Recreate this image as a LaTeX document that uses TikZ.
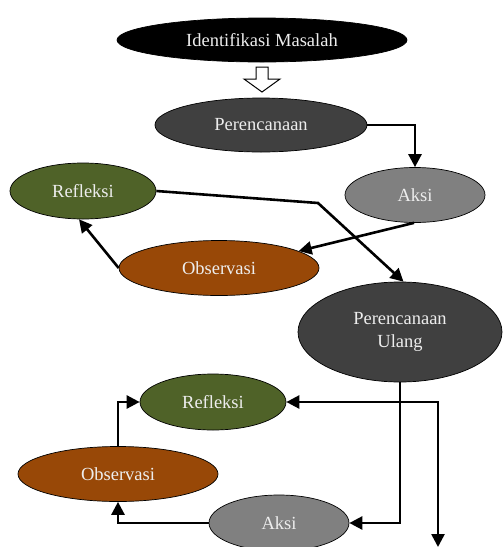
\documentclass[tikz,border=0pt]{standalone}
\usepackage{fontspec}
\setmainfont{Liberation Serif}
\usetikzlibrary{shapes.geometric,arrows.meta}

\definecolor{tahap1}{HTML}{404040}
\definecolor{aksigray}{HTML}{808080}
\definecolor{refgreen}{HTML}{4F6228}
\definecolor{obsbrown}{HTML}{984807}

\begin{document}
\begin{tikzpicture}[x=1pt, y=-1pt, >={Triangle[length=13pt,width=13pt]}]
        \tikzstyle{every node}=[ellipse, draw=black, line width=0.7pt, inner sep=0pt, text=white!93!black, font=\fontsize{18.5}{23}\selectfont, align=center]
        \tikzstyle{link}=[->, line width=2.6pt]
        \useasboundingbox (0,0) rectangle (503,547);
        \node [fill=black, minimum width=290, minimum height=44] (idm) at (262,40) {Identifikasi Masalah};
        \node [fill=tahap1, minimum width=212, minimum height=54] (per) at (261,125) {Perencanaan};
        \node [fill=aksigray, minimum width=140, minimum height=55] (aksi1) at (415,195) {Aksi};
        \node [fill=refgreen, minimum width=146, minimum height=56] (ref1) at (83,191) {Refleksi};
        \node [fill=obsbrown, minimum width=200, minimum height=55] (obs1) at (219,268) {Observasi};
        \node [fill=tahap1, minimum width=204, minimum height=100] (pu) at (400,332) {Perencanaan\\Ulang};
        \node [fill=refgreen, minimum width=146, minimum height=56] (ref2) at (213,402) {Refleksi};
        \node [fill=obsbrown, minimum width=200, minimum height=55] (obs2) at (118,474) {Observasi};
        \node [fill=aksigray, minimum width=140, minimum height=56] (aksi2) at (279,523) {Aksi};
        % panah kosong
        \draw [fill=white, line width=1pt] (256,67) -- (268,67) -- (268,79) -- (280,79) -- (262,92) -- (244,79) -- (256,79) -- cycle;
        % siklus 1
        \coordinate (kink) at (318,203);
        \draw [link] (per.east) -| (aksi1.north);
        \draw [link] (aksi1.-92) -- (obs1.12);
        \draw [link] (obs1.west) -- (ref1.-98);
        \draw [link] (ref1.east) -- (kink) -- (pu.86);
        % siklus 2
        \coordinate (keluar) at (438,547);
        \draw [link] (pu.south) |- (aksi2.east);
        \draw [link] (aksi2.west) -| (obs2.south);
        \draw [link] (obs2.north) |- (ref2.west);
        \draw [link, <->] (ref2.east) -| (keluar);
    \end{tikzpicture}
\end{document}
